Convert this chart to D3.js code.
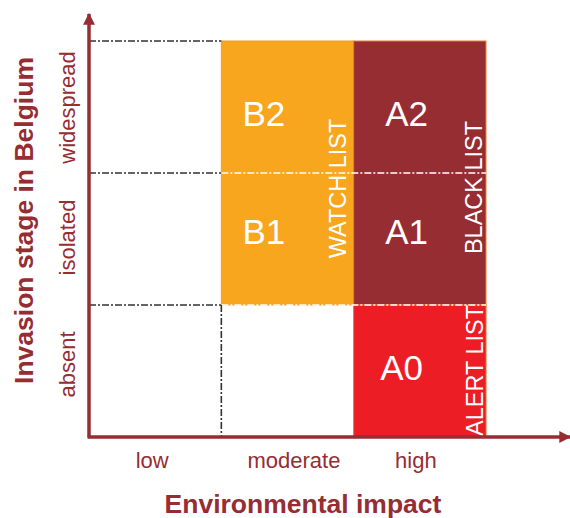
<!DOCTYPE html>
<html>
<head>
<meta charset="utf-8">
<script src="https://cdn.jsdelivr.net/npm/d3@7"></script>
<style>
  body { margin: 0; background: #fff; }
  text { font-family: "Liberation Sans", Arial, sans-serif; }
</style>
</head>
<body>
<script>
// categories
const impact = ["low", "moderate", "high"];
const stage = ["absent", "isolated", "widespread"];

// cells of the matrix
const codes = ["B1", "B2", "A0", "A1", "A2"];
const codeImpact = ["moderate", "moderate", "high", "high", "high"];
const codeStage = ["isolated", "widespread", "absent", "isolated", "widespread"];

// lists spanning cells
const listNames = ["WATCH LIST", "BLACK LIST", "ALERT LIST"];
const listImpact = ["moderate", "high", "high"];
const listFrom = ["isolated", "isolated", "absent"];
const listTo = ["widespread", "widespread", "absent"];

const color = {"WATCH LIST": "#F8A61D", "BLACK LIST": "#962D33", "ALERT LIST": "#ED1D25"};
const stroke = {"WATCH LIST": "#F39A2A", "BLACK LIST": "#E97D2E", "ALERT LIST": "#F06A23"};
const wine = "#962D33";

const W = 570, H = 518;
const x0 = 89, x1 = 486, yTop = 41, yBot = 437;

const svg = d3.select("body").append("svg")
    .attr("width", W)
    .attr("height", H);

const x = d3.scaleBand().domain(impact).range([x0, x1]);
const y = d3.scaleBand().domain(stage).range([yBot, yTop]);

// coloured blocks
svg.append("g")
  .selectAll("rect")
  .data(listNames)
  .join("rect")
    .attr("x", (d, i) => x(listImpact[i]))
    .attr("y", (d, i) => y(listTo[i]))
    .attr("width", x.bandwidth())
    .attr("height", (d, i) => y(listFrom[i]) + y.bandwidth() - y(listTo[i]))
    .attr("fill", d => color[d])
    .attr("stroke", d => stroke[d])
    .attr("stroke-width", 1);

// grid lines (dash-dot)
const dash = "7,2,2,2";
const grid = svg.append("g").attr("fill", "none").attr("stroke-width", 1.6);

const hLines = [
  {y: y("widespread"), end: x("moderate")},
  {y: y("isolated"), end: x1},
  {y: y("absent"), end: x1}
];
hLines.forEach(l => {
  grid.append("line")
      .attr("x1", x0).attr("x2", x("moderate"))
      .attr("y1", l.y).attr("y2", l.y)
      .attr("stroke", "#333")
      .attr("stroke-dasharray", dash);
  if (l.end > x("moderate")) {
    grid.append("line")
        .attr("x1", x("moderate")).attr("x2", l.end)
        .attr("y1", l.y).attr("y2", l.y)
        .attr("stroke", "#fff")
        .attr("stroke-dasharray", dash);
  }
});
grid.append("line")
    .attr("x1", x("moderate")).attr("x2", x("moderate"))
    .attr("y1", y("absent")).attr("y2", yBot)
    .attr("stroke", "#333")
    .attr("stroke-dasharray", dash);

// cell codes, nudged inside their cells
const nudge = {B1: [42.5, -7], B2: [42.5, 7], A0: [48, -3.5], A1: [53, -7], A2: [53, 7]};
svg.append("g")
  .selectAll("text")
  .data(codes)
  .join("text")
    .attr("x", (d, i) => x(codeImpact[i]) + nudge[d][0])
    .attr("y", (d, i) => y(codeStage[i]) + y.bandwidth() / 2 + nudge[d][1])
    .attr("text-anchor", "middle")
    .attr("dy", "0.35em")
    .attr("fill", "#fff")
    .attr("font-size", 35)
    .text(d => d);

// list labels (rotated)
const listX = [-15.5, -12.5, -11.5];
const listY = [15.5, 14.5, -1];
svg.append("g")
  .selectAll("text")
  .data(listNames)
  .join("text")
    .attr("transform", (d, i) => {
      const cx = x(listImpact[i]) + x.bandwidth() + listX[i];
      const top = y(listTo[i]), bot = y(listFrom[i]) + y.bandwidth();
      const cy = (i === 2 ? bot : (top + bot) / 2) + listY[i];
      return `translate(${cx},${cy}) rotate(-90)`;
    })
    .attr("text-anchor", (d, i) => i === 2 ? "start" : "middle")
    .attr("dy", "0.35em")
    .attr("fill", "#fff")
    .attr("font-size", 23.5)
    .text(d => d);

// axes
svg.append("defs").append("marker")
    .attr("id", "arrow")
    .attr("viewBox", "0 0 10 10")
    .attr("refX", 9).attr("refY", 5)
    .attr("markerWidth", 3.4).attr("markerHeight", 3.4)
    .attr("orient", "auto")
  .append("path")
    .attr("d", "M0,0L10,5L0,10Z")
    .attr("fill", wine);

svg.append("line")
    .attr("x1", x0).attr("y1", yBot)
    .attr("x2", x0).attr("y2", 14)
    .attr("stroke", wine).attr("stroke-width", 3.5)
    .attr("marker-end", "url(#arrow)");
svg.append("line")
    .attr("x1", x0 - 1.5).attr("y1", yBot)
    .attr("x2", 570).attr("y2", yBot)
    .attr("stroke", wine).attr("stroke-width", 3.5)
    .attr("marker-end", "url(#arrow)");

// tick labels
const tickDx = {low: -3, moderate: 6.5, high: -4};
svg.append("g")
  .selectAll("text")
  .data(impact)
  .join("text")
    .attr("x", d => x(d) + x.bandwidth() / 2 + tickDx[d])
    .attr("y", 468)
    .attr("text-anchor", "middle")
    .attr("fill", wine)
    .attr("font-size", 22)
    .text(d => d);

const tickDy = {absent: -6.5, isolated: -1.5, widespread: 0.5};
svg.append("g")
  .selectAll("text")
  .data(stage)
  .join("text")
    .attr("transform", d => `translate(67,${y(d) + y.bandwidth() / 2 + tickDy[d]}) rotate(-90)`)
    .attr("text-anchor", "middle")
    .attr("dy", "0.35em")
    .attr("fill", wine)
    .attr("font-size", 22)
    .text(d => d);

// axis titles
svg.append("text")
    .attr("x", 303).attr("y", 513)
    .attr("text-anchor", "middle")
    .attr("fill", wine)
    .attr("font-size", 26.5)
    .attr("font-weight", "bold")
    .text("Environmental impact");

svg.append("text")
    .attr("transform", "translate(24,220.5) rotate(-90)")
    .attr("text-anchor", "middle")
    .attr("dy", "0.35em")
    .attr("fill", wine)
    .attr("font-size", 26.5)
    .attr("font-weight", "bold")
    .text("Invasion stage in Belgium");
</script>
</body>
</html>
